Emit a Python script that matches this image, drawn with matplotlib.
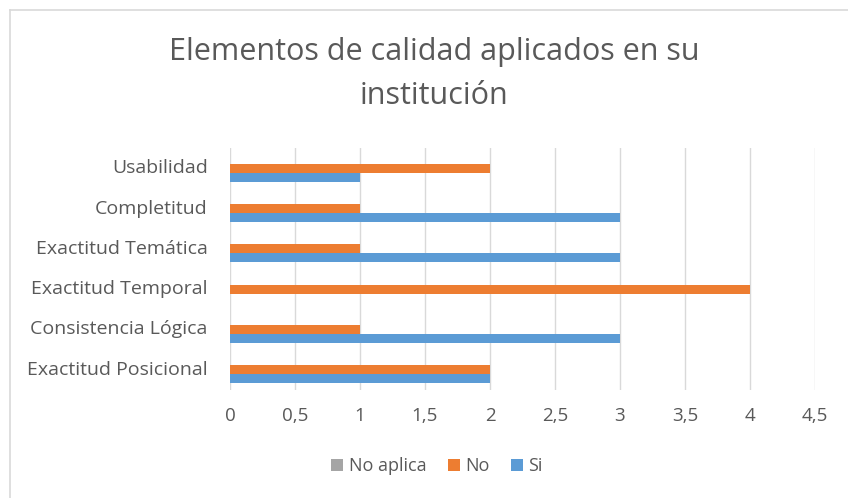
import matplotlib
matplotlib.use('Agg')
import matplotlib.pyplot as plt
import numpy as np
from matplotlib.lines import Line2D
from matplotlib.ticker import FuncFormatter

# categories, bottom to top
categorias = ['Exactitud Posicional', 'Consistencia Lógica', 'Exactitud Temporal',
              'Exactitud Temática', 'Completitud', 'Usabilidad']
si = [2, 3, 0, 3, 3, 1]
no = [2, 1, 4, 1, 1, 2]
no_aplica = [0, 0, 0, 0, 0, 0]

gris = '#595959'
plt.rcParams['font.family'] = ['Open Sans', 'DejaVu Sans']

fig = plt.figure(figsize=(8.48, 4.98), dpi=100)
ax = fig.add_axes([0.2712, 0.2169, 0.961 - 0.2712, 0.7028 - 0.2169])

y = np.arange(len(categorias))
h = 0.223
ax.barh(y - h, si, height=h, color='#5b9bd5', label='Si')
ax.barh(y, no, height=h, color='#ed7d31', label='No')
ax.barh(y + h, no_aplica, height=h, color='#a5a5a5', label='No aplica')

ax.set_xlim(0, 4.5)
ax.set_ylim(-0.5, len(categorias) - 0.5)
ax.set_xticks(np.arange(0, 4.51, 0.5))
ax.xaxis.set_major_formatter(FuncFormatter(lambda v, p: ('%g' % v).replace('.', ',')))
ax.set_yticks(y)
ax.set_yticklabels(categorias, va='center')
ax.tick_params(length=0, colors=gris, labelsize=13.5)
ax.tick_params(axis='x', pad=12)
ax.tick_params(axis='y', pad=16, labelsize=14)
ax.grid(axis='x', color='#d9d9d9', linewidth=1)
ax.set_axisbelow(True)
for s in ax.spines.values():
    s.set_visible(False)

fig.text(0.512, 1 - 52 / 498, 'Elementos de calidad aplicados en su', ha='center', va='center',
         fontsize=22, color=gris)
fig.text(0.512, 1 - 96 / 498, 'institución', ha='center', va='center', fontsize=22, color=gris)

handles, labels = ax.get_legend_handles_labels()
fig.legend(handles[::-1], labels[::-1], loc='center', bbox_to_anchor=(437 / 848, 1 - 466 / 498),
           ncol=3, frameon=False, fontsize=13, labelcolor=gris, handlelength=0.65,
           handleheight=0.65, handletextpad=0.3, columnspacing=1.2)

# chart border (left and top only visible)
fig.add_artist(Line2D([10 / 848, 10 / 848], [0, 1 - 10 / 498], color='#d9d9d9', lw=1.2))
fig.add_artist(Line2D([10 / 848, 1], [1 - 10 / 498, 1 - 10 / 498], color='#d9d9d9', lw=1.2))

fig.savefig('out.png', dpi=100, facecolor='white')
